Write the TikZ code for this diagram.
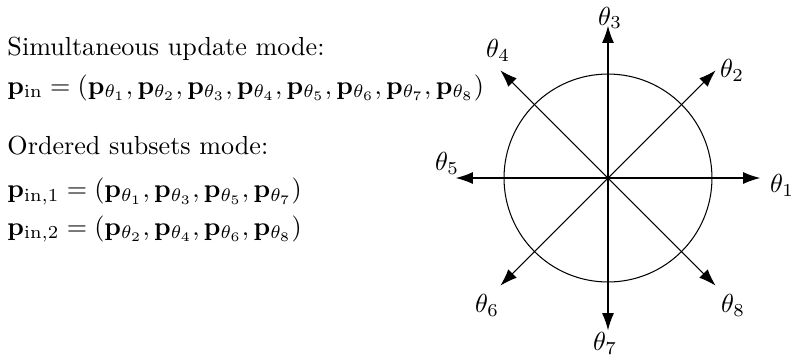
\documentclass[tikz,border=0pt]{standalone}
\usetikzlibrary{arrows.meta}

\begin{document}
\begin{tikzpicture}[every node/.style={inner sep = 0pt}, ray/.style={-{Latex[length=2.3mm, width=1.6mm]}}]
\useasboundingbox (-8.187,-2.424) rectangle (2.518,2.397);
\node at (-8.093,1.656) [anchor = base west] (SIM) {Simultaneous update mode:};
\node at (-8.093,1.131) [anchor = base west] (PIN) {$\mathbf{p}_{\mathrm{in}} = (\mathbf{p}_{\theta_1}, \mathbf{p}_{\theta_2}, \mathbf{p}_{\theta_3}, \mathbf{p}_{\theta_4}, \mathbf{p}_{\theta_5}, \mathbf{p}_{\theta_6}, \mathbf{p}_{\theta_7}, \mathbf{p}_{\theta_8})$};
\node at (-8.093,0.310) [anchor = base west] (ORD) {Ordered subsets mode:};
\node at (-8.093,-0.269) [anchor = base west] (PA) {$\mathbf{p}_{\mathrm{in},1} = (\mathbf{p}_{\theta_1}, \mathbf{p}_{\theta_3}, \mathbf{p}_{\theta_5}, \mathbf{p}_{\theta_7})$};
\node at (-8.093,-0.768) [anchor = base west] (PB) {$\mathbf{p}_{\mathrm{in},2} = (\mathbf{p}_{\theta_2}, \mathbf{p}_{\theta_4}, \mathbf{p}_{\theta_6}, \mathbf{p}_{\theta_8})$};

% circle and the eight directions
\coordinate (O) at (0,0);
\draw (O) circle (1.40);
\coordinate (T1) at (0:2.05);
\coordinate (T2) at (45:2.05);
\coordinate (T3) at (90:2.05);
\coordinate (T4) at (135:2.05);
\coordinate (T5) at (180:2.05);
\coordinate (T6) at (225:2.05);
\coordinate (T7) at (270:2.05);
\coordinate (T8) at (315:2.05);
\draw[ray] (O) -- (T1);
\draw[ray] (O) -- (T2);
\draw[ray] (O) -- (T3);
\draw[ray] (O) -- (T4);
\draw[ray] (O) -- (T5);
\draw[ray] (O) -- (T6);
\draw[ray] (O) -- (T7);
\draw[ray] (O) -- (T8);
\node at (2.343,-0.094) (L1) {$\theta_1$};
\node at (1.670,1.454) (L2) {$\theta_2$};
\node at (0.027,2.155) (L3) {$\theta_3$};
\node at (-1.481,1.724) (L4) {$\theta_4$};
\node at (-2.168,0.202) (L5) {$\theta_5$};
\node at (-1.629,-1.710) (L6) {$\theta_6$};
\node at (-0.040,-2.222) (L7) {$\theta_7$};
\node at (1.683,-1.710) (L8) {$\theta_8$};
\end{tikzpicture}
\end{document}
